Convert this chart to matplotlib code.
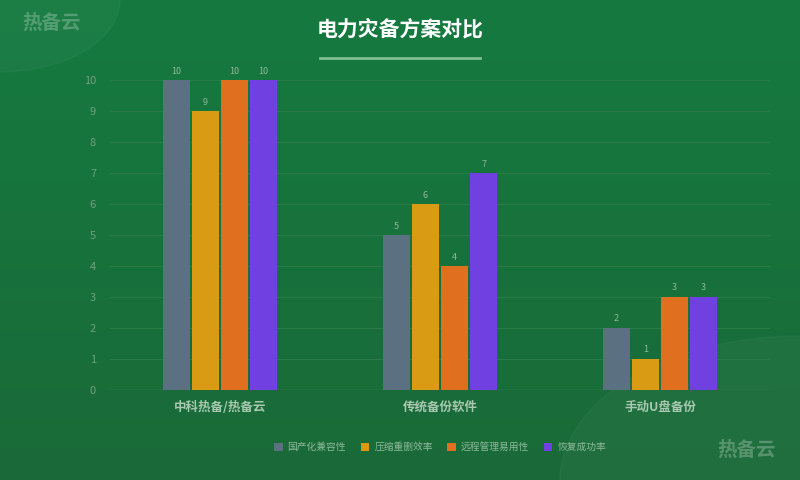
import matplotlib
matplotlib.use("Agg")
import matplotlib.pyplot as plt
import numpy as np
from matplotlib.patches import FancyBboxPatch, Circle

plt.rcParams['font.family'] = ['Noto Sans CJK SC', 'DejaVu Sans']

categories = ["中科热备/热备云", "传统备份软件", "手动U盘备份"]
series_names = ["国产化兼容性", "压缩重删效率", "远程管理易用性", "恢复成功率"]
values = [[10, 5, 2], [9, 6, 1], [10, 4, 3], [10, 7, 3]]
colors = ["#5b7080", "#d99a14", "#e07020", "#7040e0"]
yticks = list(range(0, 11))

fig = plt.figure(figsize=(8, 4.8), dpi=100)
bg = fig.add_axes([0, 0, 1, 1])
grad = np.linspace(0, 1, 256)
img = np.outer(grad, np.ones(256))
from matplotlib.colors import LinearSegmentedColormap
cm = LinearSegmentedColormap.from_list("g", ["#1a6a38", "#157a40"])
bg.imshow(img, cmap=cm, aspect='auto', extent=[0, 1, 0, 1], origin='lower')
bg.add_patch(Circle((0.0, 1.0), 0.15, transform=bg.transAxes, color='white', alpha=0.03))
bg.add_patch(Circle((1.0, 0.0), 0.3, transform=bg.transAxes, color='white', alpha=0.03))
bg.set_xlim(0, 1); bg.set_ylim(0, 1); bg.axis('off')
fig.text(0.028, 0.94, "热备云", color='white', alpha=0.25, fontsize=14, fontweight='bold')
fig.text(0.897, 0.05, "热备云", color='white', alpha=0.25, fontsize=14, fontweight='bold')
fig.text(0.5, 0.925, "电力灾备方案对比", color='white', fontsize=15, fontweight='bold', ha='center')
bg.plot([0.4, 0.6], [0.88, 0.88], color='#7fbf90', lw=2)

ax = fig.add_axes([0.1375, 0.1875, 0.825, 0.645])
ax.set_facecolor('none')
x = np.arange(len(categories))
w = 0.12
for i, (name, vals) in enumerate(zip(series_names, values)):
    pos = x + (i - 1.5) * (w + 0.012)
    bars = ax.bar(pos, vals, w, color=colors[i], label=name, zorder=3)
    for p, v in zip(pos, vals):
        ax.text(p, v + 0.15, str(v), ha='center', va='bottom', fontsize=6.5, color='#8fb89a')
ax.set_ylim(0, 10)
ax.set_xlim(-0.5, 2.5)
ax.set_yticks(yticks)
ax.grid(axis='y', color='#2a7a48', lw=0.8, zorder=0)
for s in ax.spines.values():
    s.set_visible(False)
ax.axhline(0, color='#3a8a55', lw=1)
ax.tick_params(axis='y', length=0, colors='#6fa080', labelsize=8, pad=10)
ax.tick_params(axis='x', length=0, colors='#a8c8b0', labelsize=9, pad=8)
ax.set_xticks(x)
ax.set_xticklabels(categories, fontweight='bold')
leg = ax.legend(loc='upper center', bbox_to_anchor=(0.5, -0.14), ncol=4, frameon=False,
                fontsize=7, handlelength=0.9, handleheight=0.9, columnspacing=1.5, handletextpad=0.5)
for t in leg.get_texts():
    t.set_color('#8fb89a')
fig.savefig("out.png", dpi=100)
